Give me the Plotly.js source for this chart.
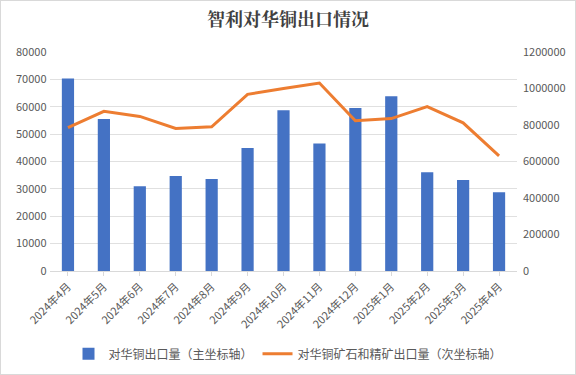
<!DOCTYPE html>
<html><head><meta charset="utf-8">
<script src="https://cdn.plot.ly/plotly-3.0.1.min.js"></script>
<style>body{margin:0;background:#fff}#c{width:574px;height:373px;border:1px solid #d9d9d9}</style>
</head><body><div id="c"></div>
<script>
const months = ["2024年4月","2024年5月","2024年6月","2024年7月","2024年8月","2024年9月","2024年10月","2024年11月","2024年12月","2025年1月","2025年2月","2025年3月","2025年4月"];
const copperExports = [70300,55500,31000,34700,33600,44900,58700,46600,59500,63800,36100,33200,28800];
const oreExports = [786000,875000,847000,781000,790000,968000,1000000,1030000,823000,835000,901000,812000,631000];
const f = "'Noto Sans CJK SC', 'Microsoft YaHei', sans-serif";
const data = [
 {type:'bar', x:months, y:copperExports, name:'对华铜出口量（主坐标轴）', marker:{color:'#4472C4'}, width:0.34, yaxis:'y'},
 {type:'scatter', mode:'lines', x:months, y:oreExports, name:'对华铜矿石和精矿出口量（次坐标轴）', line:{color:'#ED7D31', width:3}, yaxis:'y2'}
];
const layout = {
 width:574, height:373,
 margin:{l:49, r:58, t:51, b:103},
 paper_bgcolor:'#fff', plot_bgcolor:'#fff',
 title:{text:'<b>智利对华铜出口情况</b>', font:{family:"'Noto Serif CJK SC', 'Noto Sans CJK SC', serif", size:18, color:'#404040'}, x:0.5, xanchor:'center', y:0.95, yanchor:'middle'},
 font:{family:f, color:'#595959', size:11},
 xaxis:{tickangle:-45, tickfont:{size:11, color:'#595959'}, showline:true, linecolor:'#d9d9d9', ticks:'outside', ticklen:4, tickcolor:'#d9d9d9', showgrid:false, automargin:false},
 yaxis:{range:[0,80000], dtick:10000, tickformat:'d', gridcolor:'#e0e0e0', zeroline:false, tickfont:{size:11, color:'#595959'}, ticksuffix:' ', automargin:false},
 yaxis2:{range:[0,1200000], dtick:200000, tickformat:'d', overlaying:'y', side:'right', showgrid:false, zeroline:false, tickfont:{size:11, color:'#595959'}, tickprefix:'  ', automargin:false},
 legend:{orientation:'h', xref:'container', yref:'container', x:0.5, xanchor:'center', y:0.054, yanchor:'middle', font:{size:12, color:'#595959'}, traceorder:'normal'},
 bargap:0.66, showlegend:true
};
Plotly.newPlot('c', data, layout, {displayModeBar:false, staticPlot:true});
</script></body></html>
